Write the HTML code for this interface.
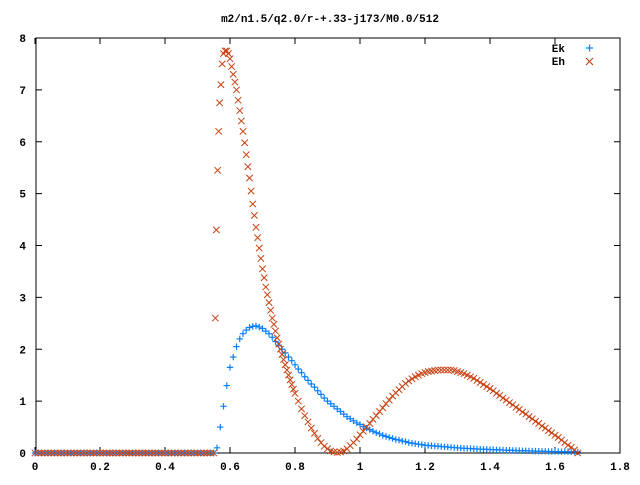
<!DOCTYPE html>
<html><head><meta charset="utf-8"><style>
body{margin:0;background:#fff}
svg text{font-family:"Liberation Mono",monospace;font-size:11px;font-weight:bold;fill:#000}
</style></head><body>
<svg id="c" width="640" height="480" xmlns="http://www.w3.org/2000/svg">
<rect x="0" y="0" width="640" height="480" fill="#fff"/>
<text x="330" y="22" text-anchor="middle">m2/n1.5/q2.0/r-+.33-j173/M0.0/512</text>
<g id="axes"></g>
<g id="marks"></g>
<g>
<text x="565" y="52" text-anchor="end">Ek</text>
<path d="M586 48h7M589.5 44.5v7" stroke="#0a80ff" stroke-width="1.2"/>
<text x="565" y="65" text-anchor="end">Eh</text>
<path d="M586 58l7 7M593 58l-7 7" stroke="#c84010" stroke-width="1.1"/>
</g>
</svg>
<script>
const xTicks=[0,0.2,0.4,0.6,0.8,1,1.2,1.4,1.6,1.8];
const xTickLabels=["0","0.2","0.4","0.6","0.8","1","1.2","1.4","1.6","1.8"];
const yTicks=[0,1,2,3,4,5,6,7,8];
const zeroX=[0,0.01,0.02,0.03,0.04,0.05,0.06,0.07,0.08,0.09,0.1,0.11,0.12,0.13,0.14,0.15,0.16,0.17,0.18,0.19,0.2,0.21,0.22,0.23,0.24,0.25,0.26,0.27,0.28,0.29,0.3,0.31,0.32,0.33,0.34,0.35,0.36,0.37,0.38,0.39,0.4,0.41,0.42,0.43,0.44,0.45,0.46,0.47,0.48,0.49,0.5,0.51,0.52,0.53,0.54,0.55];
const ekX=[0.56,0.57,0.58,0.59,0.6,0.61,0.62,0.63,0.64,0.65,0.66,0.67,0.68,0.69,0.7,0.71,0.72,0.73,0.74,0.75,0.76,0.77,0.78,0.79,0.8,0.81,0.82,0.83,0.84,0.85,0.86,0.87,0.88,0.89,0.9,0.91,0.92,0.93,0.94,0.95,0.96,0.97,0.98,0.99,1,1.01,1.02,1.03,1.04,1.05,1.06,1.07,1.08,1.09,1.1,1.11,1.12,1.13,1.14,1.15,1.16,1.17,1.18,1.19,1.2,1.21,1.22,1.23,1.24,1.25,1.26,1.27,1.28,1.29,1.3,1.31,1.32,1.33,1.34,1.35,1.36,1.37,1.38,1.39,1.4,1.41,1.42,1.43,1.44,1.45,1.46,1.47,1.48,1.49,1.5,1.51,1.52,1.53,1.54,1.55,1.56,1.57,1.58,1.59,1.6,1.61,1.62,1.63,1.64,1.65,1.66,1.67];
const ekY=[0.1,0.5,0.9,1.3,1.65,1.85,2.05,2.2,2.3,2.37,2.42,2.44,2.45,2.43,2.4,2.35,2.3,2.23,2.15,2.08,2.0,1.93,1.85,1.78,1.7,1.62,1.55,1.47,1.4,1.33,1.27,1.2,1.13,1.06,1.0,0.95,0.9,0.85,0.8,0.75,0.7,0.66,0.62,0.58,0.55,0.51,0.48,0.45,0.42,0.39,0.37,0.34,0.32,0.3,0.28,0.26,0.25,0.23,0.22,0.2,0.19,0.18,0.17,0.16,0.15,0.145,0.14,0.135,0.13,0.125,0.12,0.115,0.11,0.105,0.1,0.095,0.09,0.088,0.085,0.082,0.078,0.075,0.072,0.07,0.067,0.065,0.062,0.06,0.057,0.055,0.053,0.05,0.048,0.046,0.044,0.042,0.04,0.038,0.036,0.035,0.033,0.032,0.03,0.029,0.028,0.027,0.026,0.025,0.024,0.023,0.022,0.02];
const ehX=[0.555,0.558,0.562,0.565,0.568,0.572,0.576,0.58,0.585,0.59,0.595,0.6,0.605,0.61,0.615,0.62,0.625,0.63,0.635,0.64,0.645,0.65,0.655,0.66,0.665,0.67,0.675,0.68,0.685,0.69,0.695,0.7,0.705,0.71,0.715,0.72,0.725,0.73,0.735,0.74,0.745,0.75,0.755,0.76,0.765,0.77,0.775,0.78,0.785,0.79,0.795,0.8,0.81,0.82,0.83,0.84,0.85,0.86,0.87,0.88,0.89,0.9,0.91,0.92,0.93,0.94,0.95,0.96,0.97,0.98,0.99,1,1.01,1.02,1.03,1.04,1.05,1.06,1.07,1.08,1.09,1.1,1.11,1.12,1.13,1.14,1.15,1.16,1.17,1.18,1.19,1.2,1.21,1.22,1.23,1.24,1.25,1.26,1.27,1.28,1.29,1.3,1.31,1.32,1.33,1.34,1.35,1.36,1.37,1.38,1.39,1.4,1.41,1.42,1.43,1.44,1.45,1.46,1.47,1.48,1.49,1.5,1.51,1.52,1.53,1.54,1.55,1.56,1.57,1.58,1.59,1.6,1.61,1.62,1.63,1.64,1.65,1.66,1.67];
const ehY=[2.6,4.3,5.45,6.2,6.75,7.1,7.5,7.7,7.75,7.75,7.7,7.6,7.45,7.3,7.15,7.0,6.8,6.6,6.4,6.2,5.98,5.75,5.52,5.3,5.05,4.8,4.58,4.35,4.15,3.95,3.75,3.55,3.38,3.2,3.05,2.9,2.75,2.6,2.48,2.35,2.22,2.1,2.0,1.9,1.8,1.7,1.6,1.5,1.41,1.32,1.23,1.15,1.0,0.85,0.72,0.6,0.48,0.38,0.28,0.2,0.13,0.08,0.04,0.02,0.01,0.02,0.04,0.08,0.14,0.2,0.27,0.35,0.42,0.5,0.57,0.65,0.72,0.8,0.87,0.95,1.02,1.1,1.16,1.22,1.28,1.34,1.39,1.43,1.47,1.5,1.53,1.55,1.57,1.58,1.59,1.6,1.6,1.6,1.6,1.6,1.59,1.57,1.55,1.53,1.5,1.47,1.44,1.4,1.36,1.32,1.28,1.24,1.2,1.15,1.11,1.06,1.02,0.97,0.93,0.88,0.84,0.79,0.75,0.7,0.66,0.61,0.57,0.52,0.48,0.43,0.39,0.34,0.3,0.25,0.2,0.15,0.11,0.06,0.0];

const L=36,R=620,T=38,B=453;
const px=x=>35+(R-35)*x/1.8;
const py=y=>B-(B-T)*y/8;
const NS="http://www.w3.org/2000/svg";
const axes=document.getElementById('axes'),marks=document.getElementById('marks');
function mk(tag,attrs,parent){const e=document.createElementNS(NS,tag);for(const k in attrs)e.setAttribute(k,attrs[k]);parent.appendChild(e);return e;}
const fr=mk('rect',{x:L,y:T,width:R-L,height:B-T,fill:'none',stroke:'#000','stroke-width':1},axes);


xTicks.forEach((t,i)=>{
 const x=px(t);
 const tk=mk('path',{d:`M${x} ${B}v-6M${x} ${T}v6`,stroke:'#000'},axes);
 
 
 const lb=mk('text',{x:x,y:470,'text-anchor':'middle'},axes);lb.textContent=xTickLabels[i];
 
 
});
yTicks.forEach(t=>{
 const y=py(t);
 const tk=mk('path',{d:`M${L} ${y}h6M${R} ${y}h-6`,stroke:'#000'},axes);
 
 
 const lb=mk('text',{x:26,y:y+4,'text-anchor':'end'},axes);lb.textContent=String(t);
 
 
});
const s=3.2;
function plus(x,y){const p=mk('path',{d:`M${px(x)-s} ${py(y)}h${2*s}M${px(x)} ${py(y)-s}v${2*s}`,stroke:'#0a80ff','stroke-width':1.2},marks);
 
 }
function cross(x,y){const X=px(x),Y=py(y);const p=mk('path',{d:`M${X-s} ${Y-s}l${2*s} ${2*s}M${X+s} ${Y-s}l${-2*s} ${2*s}`,stroke:'#c84010','stroke-width':1},marks);
 
 }
zeroX.forEach(x=>plus(x,0));
ekX.forEach((x,i)=>plus(x,ekY[i]));
zeroX.forEach(x=>cross(x,0));
ehX.forEach((x,i)=>cross(x,ehY[i]));
</script>
</body></html>
